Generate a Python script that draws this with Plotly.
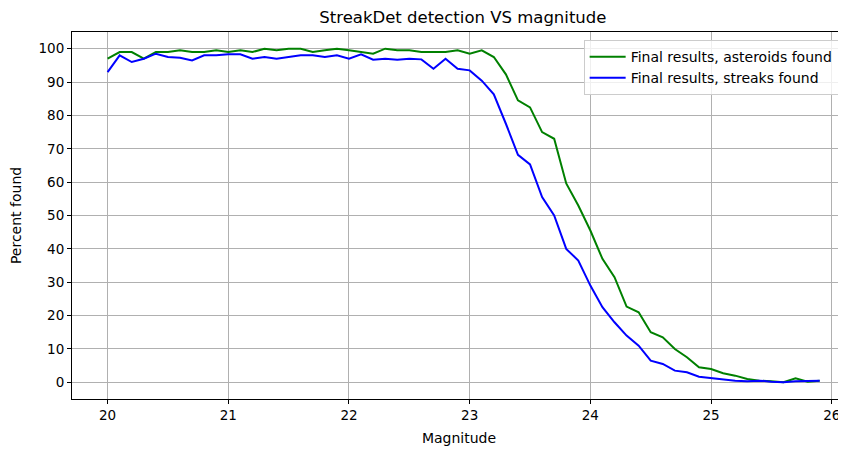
import plotly.graph_objects as go

magnitude = [round(20.0 + 0.1 * i, 1) for i in range(60)]
asteroids_found = [97, 99, 99, 97, 99, 99, 99.5, 99, 99, 99.5,
                   99, 99.5, 99, 100, 99.5, 100, 100, 99, 99.5, 100,
                   99.5, 99, 98.5, 100, 99.5, 99.5, 99, 99, 99, 99.5,
                   98.5, 99.5, 97.5, 92.3, 84.5, 82.4, 75, 73, 59.6, 53,
                   45.5, 37, 31.5, 22.7, 21, 15, 13.5, 10, 7.5, 4.5,
                   4, 2.7, 2, 1, 0.5, 0.3, 0, 1.2, 0.2, 0.5]
streaks_found = [93, 98, 96, 97, 98.5, 97.5, 97.3, 96.5, 98, 98,
                 98.3, 98.3, 97, 97.5, 97, 97.5, 98, 98, 97.5, 98,
                 97, 98.3, 96.7, 97, 96.7, 97, 96.8, 94, 97, 94,
                 93.5, 90.4, 86.3, 77.5, 68.2, 65.3, 55.5, 50, 40, 36.5,
                 29, 22.5, 18, 14, 11, 6.5, 5.5, 3.5, 3, 1.7,
                 1.3, 0.8, 0.5, 0.3, 0.5, 0.2, 0, 0.3, 0.3, 0.5]

x_ticks = [20, 21, 22, 23, 24, 25, 26]
y_ticks = [0, 10, 20, 30, 40, 50, 60, 70, 80, 90, 100]

font = "DejaVu Sans"

fig = go.Figure()
fig.add_trace(go.Scatter(x=magnitude, y=asteroids_found, mode="lines",
                         name="Final results, asteroids found",
                         line=dict(color="#008000", width=2)))
fig.add_trace(go.Scatter(x=magnitude, y=streaks_found, mode="lines",
                         name="Final results, streaks found",
                         line=dict(color="#0000ff", width=2)))

axis_common = dict(
    showgrid=True, gridcolor="#b0b0b0", gridwidth=1,
    showline=True, linecolor="black", linewidth=1,
    ticks="outside", ticklen=4, tickwidth=1, tickcolor="black",
    tickfont=dict(family=font, size=13.5, color="black"),
    zeroline=False, automargin=False,
)

# the page's body keeps an 8px margin, so the figure is sized to fill the rest
W, H = 838, 443

fig.update_layout(
    width=W, height=H,
    margin=dict(l=64, r=0, t=24, b=52),
    paper_bgcolor="white", plot_bgcolor="white",
    font=dict(family=font, color="black"),
    title=dict(text="StreakDet detection VS magnitude",
               font=dict(family=font, size=16.5, color="black"),
               x=0.505, xref="paper", xanchor="center",
               y=1 - 9 / H, yref="container", yanchor="middle"),
    xaxis=dict(range=[19.705, 26.118], tickvals=x_ticks,
               ticktext=[str(v) for v in x_ticks], mirror=True,
               title=dict(text="Magnitude", font=dict(family=font, size=14, color="black"),
                          standoff=10),
               **axis_common),
    yaxis=dict(range=[-5, 105], tickvals=y_ticks,
               ticktext=[str(v) for v in y_ticks], mirror=False,
               title=dict(text="Percent found", font=dict(family=font, size=14, color="black"),
                          standoff=13),
               **axis_common),
    legend=dict(x=0.9905, y=0.978, xanchor="right", yanchor="top",
                bgcolor="rgba(255,255,255,0.8)", bordercolor="#cccccc", borderwidth=1,
                font=dict(family=font, size=14, color="black"),
                tracegroupgap=0, itemwidth=36),
    showlegend=True,
)

fig.write_html("out.html")
